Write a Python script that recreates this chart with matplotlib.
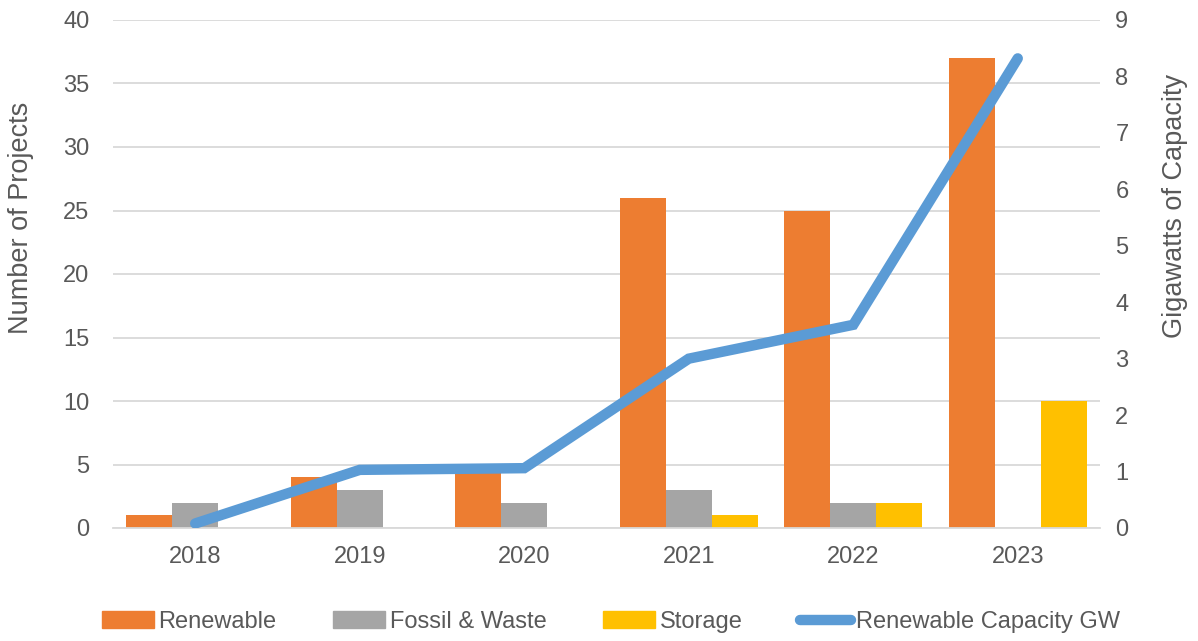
import numpy as np
import matplotlib.pyplot as plt
from matplotlib.lines import Line2D
from matplotlib.patches import Patch

plt.rcParams['font.family'] = ['Liberation Sans', 'DejaVu Sans']

years = ['2018', '2019', '2020', '2021', '2022', '2023']
renewable = [1, 4, 5, 26, 25, 37]
fossil = [2, 3, 2, 3, 2, 0]
storage = [0, 0, 0, 1, 2, 10]
capacity_gw = [0.08, 1.03, 1.06, 3.0, 3.6, 8.32]

c_ren = '#ed7d31'
c_fos = '#a5a5a5'
c_sto = '#ffc000'
c_line = '#5b9bd5'
txt = '#595959'
fs = 17

fig = plt.figure(figsize=(11.98, 6.41), dpi=100)
ax = fig.add_axes([113 / 1198, 1 - 528 / 641, 987 / 1198, 508 / 641])
ax2 = ax.twinx()

x = np.arange(len(years))
w = 0.28
ax.bar(x - w, renewable, w, color=c_ren, zorder=2)
ax.bar(x, fossil, w, color=c_fos, zorder=2)
ax.bar(x + w, storage, w, color=c_sto, zorder=2)

ax2.plot(x, capacity_gw, color=c_line, lw=7.5, solid_capstyle='round', solid_joinstyle='miter', zorder=3)

ax.set_xlim(-0.5, len(years) - 0.5)
ax.set_ylim(0, 40)
ax.set_yticks(range(0, 41, 5))
ax2.set_ylim(0, 9)
ax2.set_yticks(range(0, 10))
ax.set_xticks(x)
ax.set_xticklabels(years)

ax.grid(axis='y', color='#d9d9d9', lw=1.3, zorder=0)
ax.set_axisbelow(True)
for a in (ax, ax2):
    for s in a.spines.values():
        s.set_visible(False)
    a.tick_params(length=0, labelsize=fs, colors=txt)
ax.spines['bottom'].set_visible(True)
ax.spines['bottom'].set_color('#d9d9d9')
ax.spines['bottom'].set_linewidth(1.3)
ax.tick_params(axis='x', pad=13)
ax.tick_params(axis='y', pad=17)
ax2.tick_params(axis='y', pad=11)

ax.set_ylabel('Number of Projects', fontsize=19.5, color=txt)
ax2.set_ylabel('Gigawatts of Capacity', fontsize=19.5, color=txt)
ax.yaxis.set_label_coords(-0.080, 0.610)
ax2.yaxis.set_label_coords(1.063, 0.634)

# put line above bars
ax2.set_zorder(ax.get_zorder() + 1)
ax.patch.set_visible(True)
ax2.patch.set_visible(False)

handles = [
    Patch(color=c_ren, label='Renewable'),
    Patch(color=c_fos, label='Fossil & Waste'),
    Patch(color=c_sto, label='Storage'),
    Line2D([0], [0], color=c_line, lw=7.5, solid_capstyle='round', label='Renewable Capacity GW'),
]
leg = fig.legend(handles=handles, loc='center', bbox_to_anchor=(0.510, 1 - 622 / 641), ncol=4,
                 frameon=False, fontsize=fs, handlelength=2.2, handleheight=0.75,
                 handletextpad=0.2, columnspacing=2.4)
for t in leg.get_texts():
    t.set_color(txt)

fig.savefig('out.png', dpi=100)
